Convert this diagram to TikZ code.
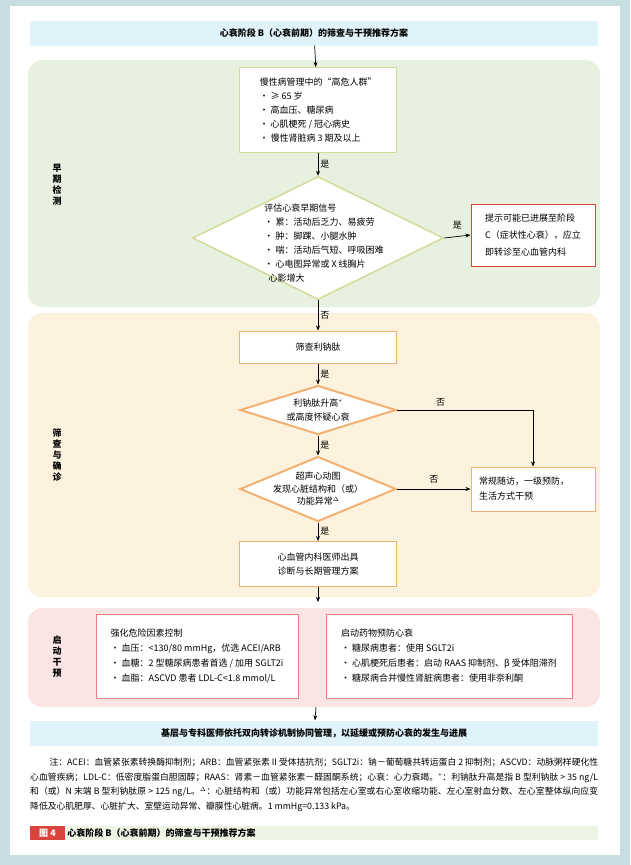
\documentclass[tikz,border=0pt]{standalone}
\usepackage{fontspec}
\setmainfont{Noto Sans CJK SC}
\usetikzlibrary{shapes.geometric,arrows.meta}
\XeTeXlinebreaklocale "zh"
\XeTeXlinebreakskip=0pt plus 1pt
\definecolor{frameblue}{HTML}{C8DDE2}
\definecolor{barblue}{HTML}{E0F2FA}
\definecolor{earlygreen}{HTML}{E8F1E0}
\definecolor{screenorange}{HTML}{FCF2DD}
\definecolor{actpink}{HTML}{FBE5E4}
\definecolor{capgreen}{HTML}{EEF4E4}
\definecolor{lineorange}{HTML}{F2B173}
\definecolor{linegreen}{HTML}{D3DB98}
\definecolor{linered}{HTML}{D9443F}
\definecolor{linepink}{HTML}{EC7E80}

\begin{document}
\begin{tikzpicture}[x=1pt,y=-1pt,
        font=\fontsize{9}{14}\selectfont,
        region/.style={rounded corners=14pt},
        box/.style={draw=lineorange,line width=1pt,fill=white,inner sep=0pt},
        dia/.style={diamond,draw=lineorange,line width=2pt,fill=white,inner sep=0pt},
        inside/.style={align=left,inner sep=0pt},
        side/.style={font=\fontsize{9}{11}\selectfont\bfseries,align=center},
        flow/.style={-{Stealth[length=5pt,width=4pt]},line width=0.7pt},
        yes/.style={right,inner sep=2pt}
    ]
    \useasboundingbox (0,0) rectangle (630,865);
    \fill[frameblue] (0,0) rectangle (630,865);
    \fill[white] (10,6) rectangle (620,855);

    % title
    \node[fill=barblue,minimum width=568pt,minimum height=25pt,font=\fontsize{9}{11}\selectfont\bfseries] (title) at (314,33) {心衰阶段 B（心衰前期）的筛查与干预推荐方案};

    % regions
    \fill[region,earlygreen] (28,60) rectangle (600,307);
    \fill[region,screenorange] (28,313) rectangle (600,597);
    \fill[region,actpink] (28,608) rectangle (600,707);
    \node[side] at (57,185) {早\\期\\检\\测};
    \node[side] at (57,455) {筛\\查\\与\\确\\诊};
    \node[side] at (57,657) {启\\动\\干\\预};

    % early detection
    \node[box,draw=linegreen,minimum width=157pt,minimum height=85pt] (risk) at (318,110) {};
    \node[inside] at (risk.center) {慢性病管理中的“高危人群”\\· ≥ 65 岁\\· 高血压、糖尿病\\· 心肌梗死 / 冠心病史\\· 慢性肾脏病 3 期及以上};
    \node[dia,draw=linegreen,line width=1.5pt,minimum width=251pt,minimum height=123pt] (signs) at (318,238) {};
    \node[inside,xshift=6pt,yshift=-5pt] at (signs.center) {评估心衰早期信号\\· 累：活动后乏力、易疲劳\\· 肿：脚踝、小腿水肿\\· 喘：活动后气短、呼吸困难\\· 心电图异常或 X 线胸片\\\ \ 心影增大};
    \node[box,draw=linered,minimum width=124pt,minimum height=62pt] (stagec) at (533,235) {};
    \node[inside,font=\fontsize{9}{17}\selectfont] at (stagec.center) {提示可能已进展至阶段\\C（症状性心衰），应立\\即转诊至心血管内科};

    % screening
    \node[box,minimum width=157pt,minimum height=32pt] (bnp) at (318,347) {筛查利钠肽};
    \node[dia,minimum width=156pt,minimum height=49pt] (bnpup) at (318,410) {};
    \node[align=center,inner sep=0pt] at (bnpup.center) {利钠肽升高$^{*}$\\或高度怀疑心衰};
    \node[dia,minimum width=156pt,minimum height=65pt] (echo) at (318,489) {};
    \node[align=center,inner sep=0pt,font=\fontsize{9}{12.5}\selectfont] at (echo.center) {超声心动图\\发现心脏结构和（或）\\功能异常$^{\Delta}$};
    \node[box,minimum width=157pt,minimum height=45pt] (plan) at (318,564) {};
    \node[align=center,inner sep=0pt] at (plan.center) {心血管内科医师出具\\诊断与长期管理方案};
    \node[box,minimum width=124pt,minimum height=44pt] (follow) at (533,489) {};
    \node[inside,font=\fontsize{9}{15}\selectfont] at (follow.center) {常规随访，一级预防，\\生活方式干预\phantom{，一级预防，}};

    % intervention
    \node[box,draw=linepink,minimum width=202pt,minimum height=84pt] (risky) at (197,656) {};
    \node[inside,font=\fontsize{9}{15}\selectfont] at (risky.center) {\hfill 强化危险因素控制\hfill\null\\· 血压：<130/80 mmHg，优选 ACEI/ARB\\· 血糖：2 型糖尿病患者首选 / 加用 SGLT2i\\· 血脂：ASCVD 患者 LDL-C<1.8 mmol/L};
    \node[box,draw=linepink,minimum width=246pt,minimum height=84pt] (drug) at (449,656) {};
    \node[inside,font=\fontsize{9}{15}\selectfont] at (drug.center) {\hfill 启动药物预防心衰\hfill\null\\· 糖尿病患者：使用 SGLT2i\\· 心肌梗死后患者：启动 RAAS 抑制剂、β 受体阻滞剂\\· 糖尿病合并慢性肾脏病患者：使用非奈利酮};

    \node[fill=barblue,minimum width=568pt,minimum height=25pt,font=\fontsize{9}{11}\selectfont\bfseries] (coop) at (314,733) {基层与专科医师依托双向转诊机制协同管理，以延缓或预防心衰的发生与进展};

    % notes
    \node[text width=568pt,inner sep=0pt,anchor=north west,font=\fontsize{8.8}{14.6}\selectfont,align=justify] (notes) at (30,758) {\hspace*{2.2em}注：ACEI：血管紧张素转换酶抑制剂；ARB：血管紧张素 II 受体拮抗剂；SGLT2i：钠－葡萄糖共转运蛋白 2 抑制剂；ASCVD：动脉粥样硬化性心血管疾病；LDL-C：低密度脂蛋白胆固醇；RAAS：肾素－血管紧张素－醛固酮系统；心衰：心力衰竭。$^{*}$：利钠肽升高是指 B 型利钠肽 > 35 ng/L 和（或）N 末端 B 型利钠肽原 > 125 ng/L。$^{\Delta}$：心脏结构和（或）功能异常包括左心室或右心室收缩功能、左心室射血分数、左心室整体纵向应变降低及心肌肥厚、心脏扩大、室壁运动异常、瓣膜性心脏病。1 mmHg=0.133 kPa。};
    \fill[capgreen] (65,826) rectangle (598,840);
    \node[fill=linered,text=white,minimum width=35pt,minimum height=14pt,inner sep=0pt,font=\fontsize{9}{10}\selectfont\bfseries] (fig) at (47.5,833) {图 4};
    \node[anchor=west,inner sep=2pt,font=\fontsize{9}{10}\selectfont\bfseries] (caption) at (fig.east) {心衰阶段 B（心衰前期）的筛查与干预推荐方案};

    % connectors
    \draw[flow] (title) -- (risk);
    \draw[flow] (risk) -- (signs.north) node[midway,yes] {是};
    \draw[flow] (signs.east) -- (stagec.west) node[midway,above,yshift=4pt] {是};
    \draw[flow] (signs.south) -- (bnp) node[midway,yes] {否};
    \draw[flow] (bnp) -- (bnpup.north) node[midway,yes] {是};
    \draw[flow] (bnpup.east) -| (follow.north) node[pos=0.16,above] {否};
    \draw[flow] (bnpup.south) -- (echo.north) node[midway,yes] {是};
    \draw[flow] (echo.east) -- (follow.west) node[midway,above,yshift=2pt] {否};
    \draw[flow] (echo.south) -- (plan) node[midway,yes] {是};
    \draw[flow] (plan.south) -- ++(0,15);
    \draw[flow] (316,707) -- (coop);
\end{tikzpicture}
\end{document}
